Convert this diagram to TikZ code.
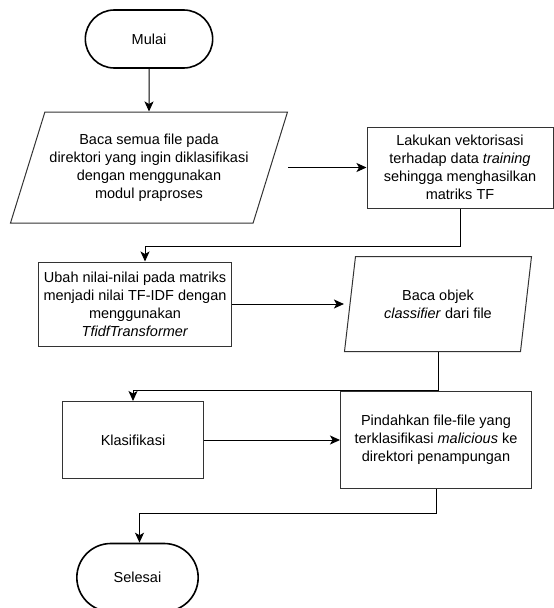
\documentclass[tikz,border=0pt]{standalone}
\usepackage{fontspec}
\setmainfont{Liberation Sans}
\usepackage{tikz}
\usetikzlibrary{shapes.misc,shapes.geometric,positioning,arrows.meta}

\begin{document}
\begin{tikzpicture}[node distance=3cm,on grid,
    font=\fontsize{14.5}{18}\selectfont,
    terminal/.style={rounded rectangle,draw,line width=1.6pt,minimum width=134pt,minimum height=58pt},
    io/.style={trapezium,trapezium stretches body,draw=black!80,line width=1pt,align=center,inner sep=0pt},
    process/.style={rectangle,draw=black!80,line width=1pt,align=center,inner sep=2pt},
    flow/.style={-{Stealth[length=10pt,width=9pt,inset=2.5pt]},line width=1pt}]
    \useasboundingbox (0,0) rectangle (554pt,-608pt);

    \node[terminal] (mulai) at (149pt,-39pt) {Mulai};
    \node[io, trapezium left angle=63, trapezium right angle=117,
          minimum width=277pt, minimum height=111pt] (baca) [below=128.5pt of mulai]
          {Baca semua file pada\\direktori yang ingin diklasifikasi\\dengan menggunakan\\modul praproses};
    \node[process, minimum width=186pt, minimum height=81pt] (vektor) [right=311pt of baca]
          {Lakukan vektorisasi\\terhadap data \textit{training}\\sehingga menghasilkan\\matriks TF};
    \node[process, minimum width=193pt, minimum height=84pt] (tfidf) [below=136.5pt of baca, xshift=-14pt]
          {Ubah nilai-nilai pada matriks\\menjadi nilai TF-IDF dengan\\menggunakan\\\textit{TfidfTransformer}};
    \node[io, trapezium left angle=69, trapezium right angle=111,
          minimum width=187pt, minimum height=95pt] (objek) [right=303pt of tfidf]
          {Baca objek\\\textit{classifier} dari file};
    \node[process, minimum width=141pt, minimum height=77pt] (klas) [below=136pt of tfidf, xshift=-2pt]
          {Klasifikasi};
    \node[process, minimum width=191pt, minimum height=97pt] (pindah) [right=303pt of klas]
          {Pindahkan file-file yang\\terklasifikasi \textit{malicious} ke\\direktori penampungan};
    \node[terminal, minimum width=128pt, minimum height=68pt] (selesai) [below=137.5pt of klas, xshift=4.5pt]
          {Selesai};

    \draw[flow] (mulai) -- (baca);
    \draw[flow] (baca.top right corner |- vektor.west) -- (vektor.west);
    \draw[flow] (vektor.south) -- ++(0,-38pt) -| ([xshift=10pt]tfidf.north);
    \draw[flow] (tfidf.east) -- (objek.bottom left corner |- tfidf.east);
    \draw[flow] (objek.south) -- ++(0,-38pt) -| (klas.north);
    \draw[flow] (klas.east) -- (klas.east -| pindah.west);
    \draw[flow] (pindah.south) -- ++(0,-24pt) -| ([xshift=2pt]selesai.north);
\end{tikzpicture}
\end{document}
